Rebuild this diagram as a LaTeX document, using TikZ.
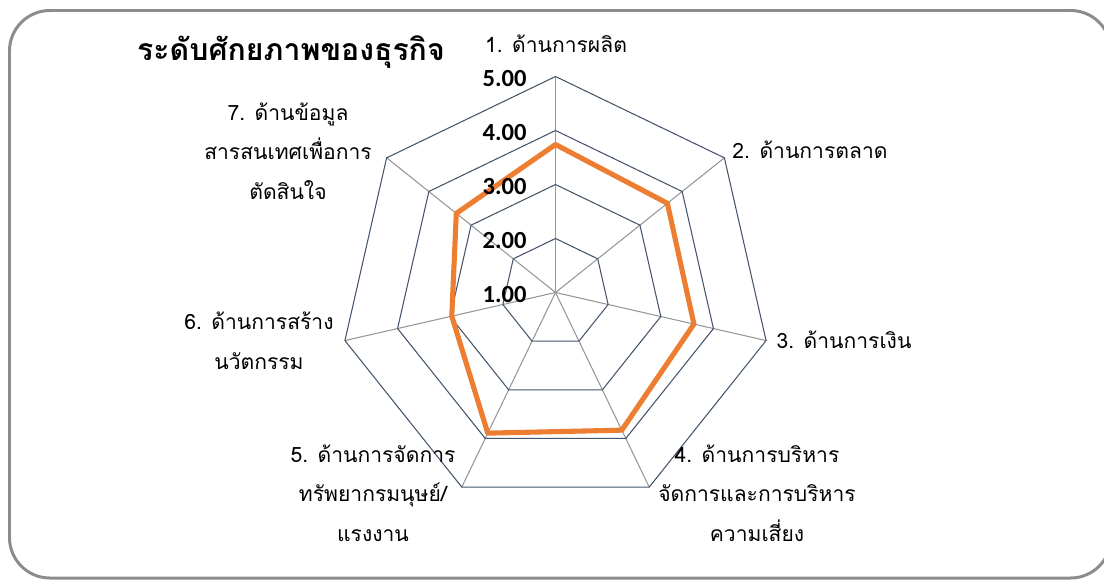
\documentclass[tikz,border=0pt]{standalone}
\usepackage{tikz}
\usepackage{xcolor}
\usepackage{fontspec}
\newfontfamily\thaifont[Script=Thai]{Loma}
\newfontfamily\numfont{Carlito}

\definecolor{ringcol}{RGB}{68,84,106}
\definecolor{spokecol}{RGB}{150,150,150}
\definecolor{datacol}{RGB}{237,125,49}
\definecolor{framecol}{RGB}{140,140,140}

\tikzset{
  ring/.style={draw=ringcol,line width=0.6pt},
  spoke/.style={draw=spokecol,line width=0.6pt},
  dataline/.style={draw=datacol,line width=2.9pt,line join=round},
  axlabel/.style={font=\thaifont\fontsize{12}{22.5}\selectfont,align=center,inner sep=0pt},
  numlabel/.style={font=\numfont\bfseries\fontsize{14}{14}\selectfont,anchor=east,inner sep=0pt},
  titlelabel/.style={font=\thaifont\bfseries\fontsize{17.2}{17.2}\selectfont,inner sep=0pt}
}

\begin{document}
\begin{tikzpicture}[x=0.02cm,y=0.02cm]
\useasboundingbox (0,0) rectangle (1104,579);
\clip (0,0) rectangle (1104,579);

% frame
\draw[framecol,line width=1.7pt,rounded corners=23] (9.5,1) rectangle (1111,568.5);

\node[titlelabel] (title) at (291,527) {ระดับศักยภาพของธุรกิจ};

\begin{scope}[shift={(555.5,286.5)}]
\coordinate (c) at (0,0);

% spokes
\foreach \a in {90,38.571,-12.857,-64.286,-115.714,-167.143,141.429}
  \draw[spoke] (c) -- (\a:216);

% rings 2.00 .. 5.00
\foreach \r in {54,108,162,216}
  \draw[ring] (90:\r) -- (38.571:\r) -- (-12.857:\r) -- (-64.286:\r)
    -- (-115.714:\r) -- (-167.143:\r) -- (141.429:\r) -- cycle;

% data
\draw[dataline] (90:148) -- (38.571:143.1) -- (-12.857:142) -- (-64.286:152.8)
  -- (-115.714:156.1) -- (-167.143:106.4) -- (141.429:126.9) -- cycle;

% scale labels
\node[numlabel] (n1) at (-28.5,-2) {1.00};
\node[numlabel] (n2) at (-28.5,52) {2.00};
\node[numlabel] (n3) at (-28.5,106) {3.00};
\node[numlabel] (n4) at (-28.5,160) {4.00};
\node[numlabel] (n5) at (-28.5,214) {5.00};
\end{scope}

% axis labels
\node[axlabel] (ax1) at (556,535) {1. ด้านการผลิต};
\node[axlabel] (ax2) at (810,429) {2. ด้านการตลาด};
\node[axlabel] (ax3) at (844,239) {3. ด้านการเงิน};
\node[axlabel] (ax4) at (757,86) {4. ด้านการบริหาร\\จัดการและการบริหาร\\ความเสี่ยง};
\node[axlabel] (ax5) at (373,86) {5. ด้านการจัดการ\\ทรัพยากรมนุษย์/\\แรงงาน};
\node[axlabel] (ax6) at (259,238) {6. ด้านการสร้าง\\นวัตกรรม};
\node[axlabel] (ax7) at (288,428) {7. ด้านข้อมูล\\สารสนเทศเพื่อการ\\ตัดสินใจ};
\end{tikzpicture}
\end{document}
